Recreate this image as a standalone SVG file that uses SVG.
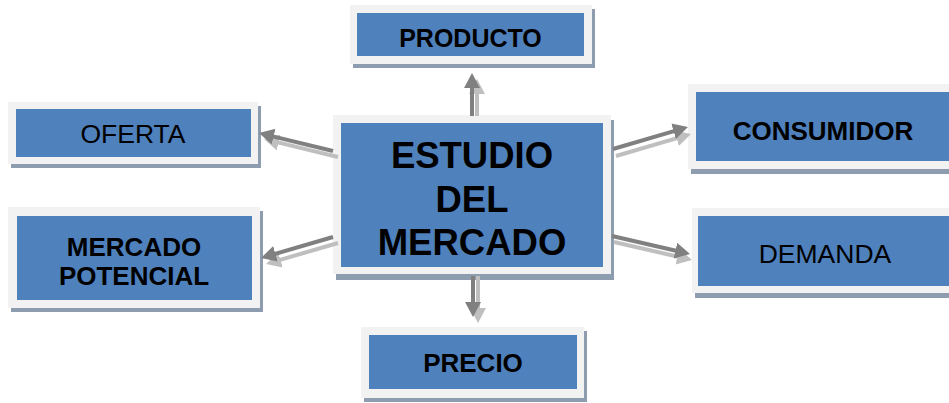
<svg xmlns="http://www.w3.org/2000/svg" width="949" height="403" viewBox="0 0 949 403">
<defs>
<style>
.sh{fill:#8e9cb0}
.fr{fill:#f2f2f2}
.bx{fill:#4f81bd}
.t{font-family:"Liberation Sans",Arial,sans-serif;font-size:26px;fill:#000;text-anchor:middle}
.b{font-weight:bold}
.dk{stroke:#808080;stroke-width:4;fill:none;marker-end:url(#hd)}
.lt{stroke:#bfbfbf;stroke-width:4;fill:none;marker-end:url(#hl)}
</style>
<marker id="hd" markerUnits="userSpaceOnUse" markerWidth="18" markerHeight="18" refX="4" refY="8" orient="auto"><path d="M0,0 L15,8 L0,16 z" fill="#808080"/></marker>
<marker id="hl" markerUnits="userSpaceOnUse" markerWidth="18" markerHeight="18" refX="4" refY="8" orient="auto"><path d="M0,0 L15,8 L0,16 z" fill="#bfbfbf"/></marker>
</defs>
<rect width="949" height="403" fill="#fff"/>
<g id="producto">
<rect class="sh" x="353" y="9" width="242" height="59"/>
<rect class="fr" x="350" y="5" width="242" height="59"/>
<rect class="bx" x="357" y="13" width="227" height="43"/>
<text class="t b" x="470.5" y="47" style="font-size:25px">PRODUCTO</text>
</g>
<g id="oferta">
<rect class="sh" x="11" y="106" width="250" height="62"/>
<rect class="fr" x="8" y="102" width="250" height="62"/>
<rect class="bx" x="16" y="109" width="235" height="48"/>
<text class="t" x="133" y="143" style="font-size:26.5px">OFERTA</text>
</g>
<g id="mercado-potencial">
<rect class="sh" x="11" y="211" width="252" height="101"/>
<rect class="fr" x="8" y="207" width="252" height="101"/>
<rect class="bx" x="17" y="216" width="235" height="84"/>
<text class="t b" x="134" y="256">MERCADO</text>
<text class="t b" x="134" y="285">POTENCIAL</text>
</g>
<g id="estudio">
<rect class="sh" x="336" y="120" width="278" height="160"/>
<rect class="fr" x="333" y="115" width="278" height="159"/>
<rect class="bx" x="341" y="123" width="262" height="144"/>
<text class="t b" x="472" y="168" style="font-size:36.5px">ESTUDIO</text>
<text class="t b" x="472" y="212" style="font-size:36.5px">DEL</text>
<text class="t b" x="472" y="255" style="font-size:36.5px">MERCADO</text>
</g>
<g id="consumidor">
<rect class="sh" x="691" y="89" width="280" height="85"/>
<rect class="fr" x="688" y="84" width="280" height="85"/>
<rect class="bx" x="696" y="92" width="270" height="69"/>
<text class="t b" x="823" y="140">CONSUMIDOR</text>
</g>
<g id="demanda">
<rect class="sh" x="695" y="213" width="280" height="85"/>
<rect class="fr" x="692" y="208" width="280" height="85"/>
<rect class="bx" x="698" y="216" width="270" height="70"/>
<text class="t" x="825" y="263" style="font-size:26.5px">DEMANDA</text>
</g>
<g id="precio">
<rect class="sh" x="364" y="331" width="223" height="71"/>
<rect class="fr" x="361" y="327" width="223" height="71"/>
<rect class="bx" x="369" y="335" width="208" height="54"/>
<text class="t b" x="473" y="372">PRECIO</text>
</g>
<g id="connectors">
<line class="lt" x1="477" y1="116" x2="477" y2="90"/>
<line class="dk" x1="472" y1="116" x2="472" y2="84"/>
<line class="lt" x1="338" y1="157" x2="274.7" y2="141.6"/>
<line class="dk" x1="333" y1="151" x2="269.7" y2="135.6"/>
<line class="lt" x1="338" y1="243" x2="276.6" y2="260.9"/>
<line class="dk" x1="333" y1="237" x2="271.6" y2="254.9"/>
<line class="lt" x1="616" y1="156" x2="680.4" y2="137.1"/>
<line class="dk" x1="613" y1="149" x2="677.4" y2="130.1"/>
<line class="lt" x1="614" y1="242" x2="681.3" y2="257.5"/>
<line class="dk" x1="612" y1="236" x2="679.3" y2="251.5"/>
<line class="lt" x1="478" y1="276" x2="478" y2="312"/>
<line class="dk" x1="473" y1="276" x2="473" y2="306"/>
</g>
</svg>
